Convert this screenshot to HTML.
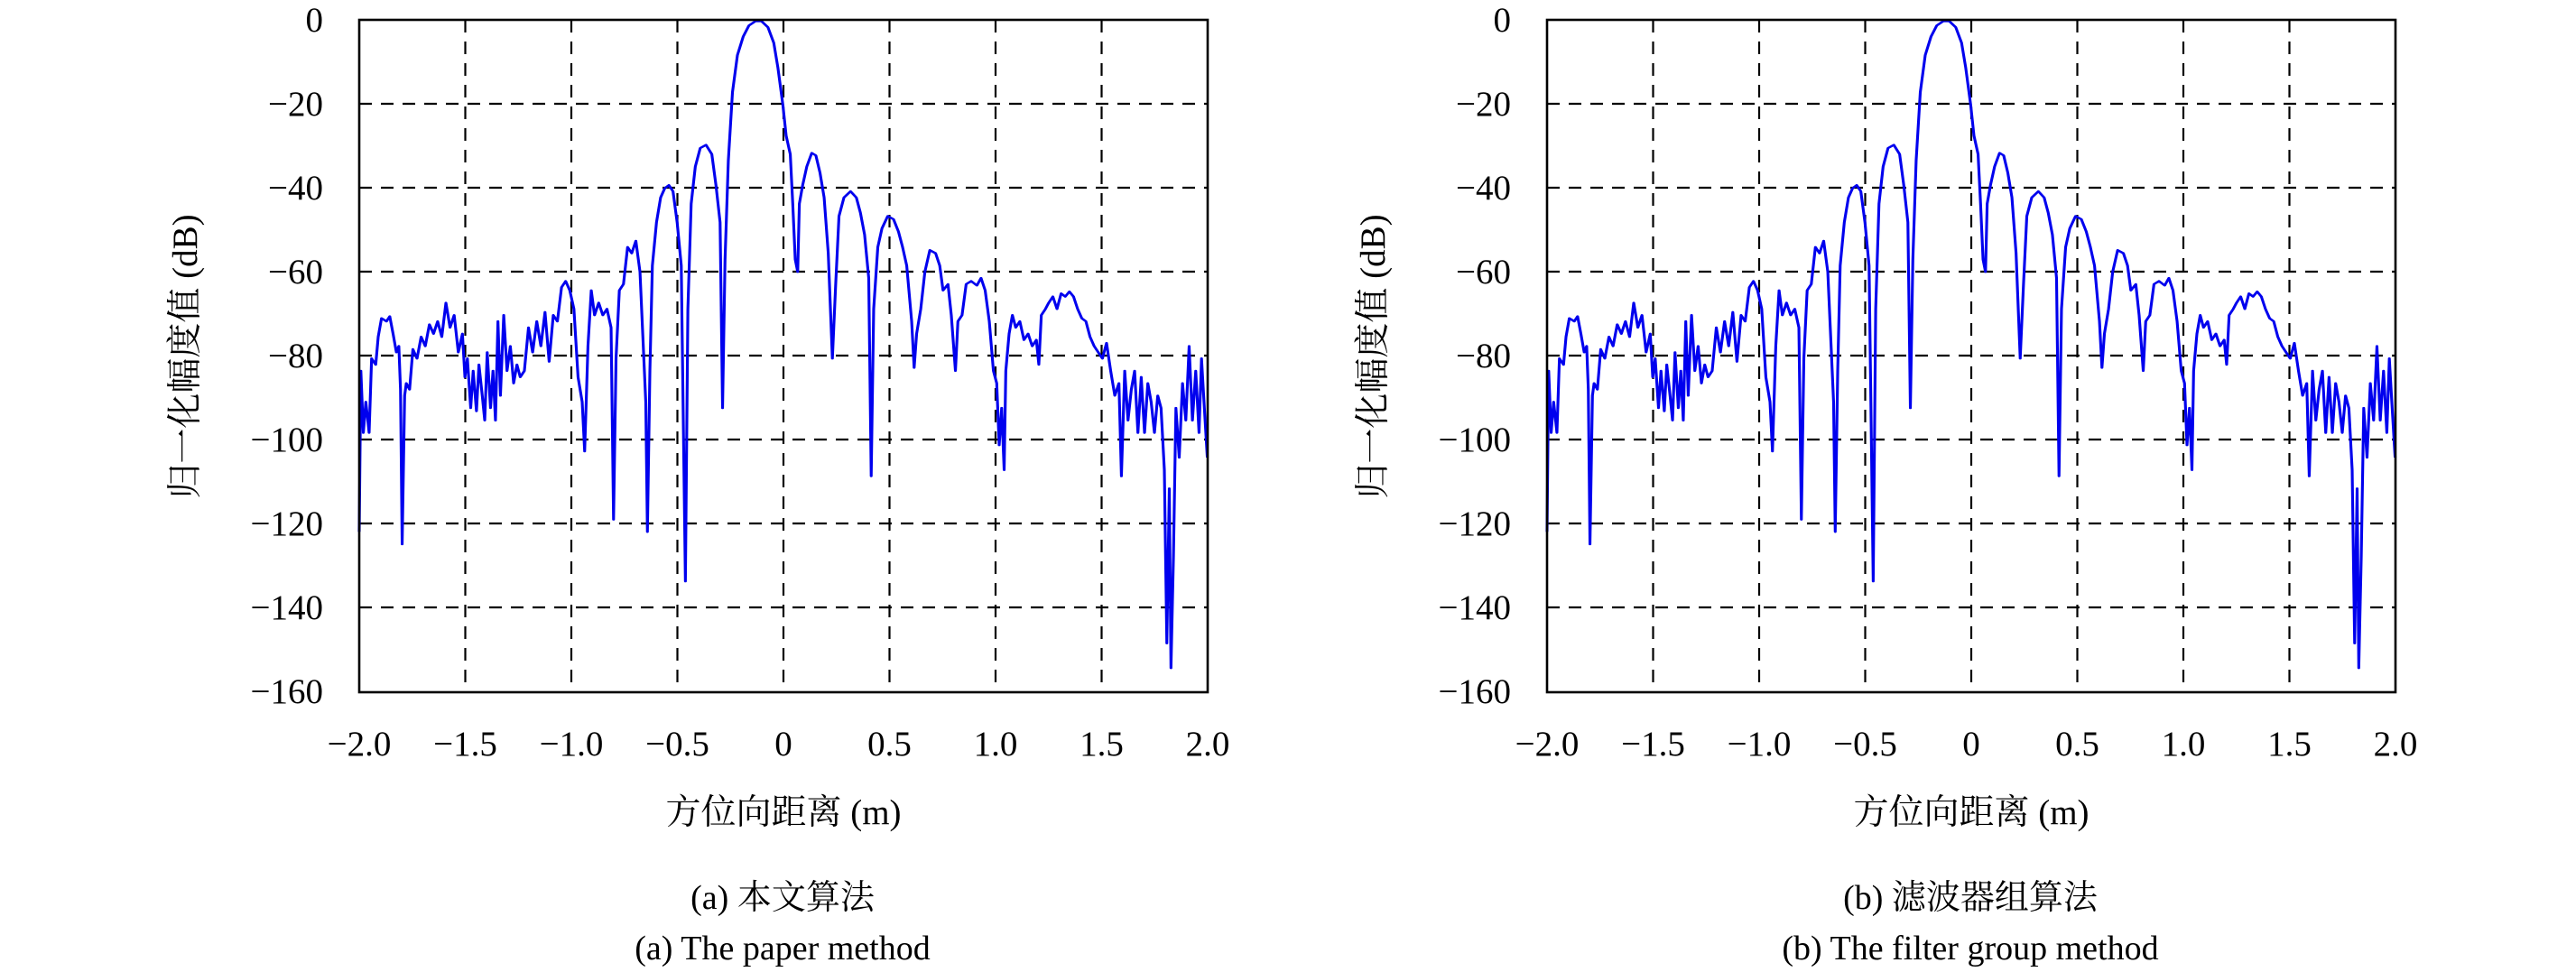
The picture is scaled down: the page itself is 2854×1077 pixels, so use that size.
<!DOCTYPE html>
<html><head><meta charset="utf-8"><style>
html,body{margin:0;padding:0;background:#fff;}
svg{display:block;}
text{font-family:"Liberation Serif","Noto Serif CJK SC",serif;fill:#000;}
</style></head><body>
<svg width="2854" height="1077" viewBox="0 0 2854 1077" xmlns="http://www.w3.org/2000/svg">
<defs>
<g id="plot">
  <g stroke="#000" stroke-width="2.2" stroke-dasharray="14,10" fill="none">
    <line x1="0" y1="93" x2="940" y2="93"/>
    <line x1="0" y1="186" x2="940" y2="186"/>
    <line x1="0" y1="279" x2="940" y2="279"/>
    <line x1="0" y1="372" x2="940" y2="372"/>
    <line x1="0" y1="465" x2="940" y2="465"/>
    <line x1="0" y1="558" x2="940" y2="558"/>
    <line x1="0" y1="651" x2="940" y2="651"/>
    <line x1="117.5" y1="0" x2="117.5" y2="745"/>
    <line x1="235" y1="0" x2="235" y2="745"/>
    <line x1="352.5" y1="0" x2="352.5" y2="745"/>
    <line x1="470" y1="0" x2="470" y2="745"/>
    <line x1="587.5" y1="0" x2="587.5" y2="745"/>
    <line x1="705" y1="0" x2="705" y2="745"/>
    <line x1="822.5" y1="0" x2="822.5" y2="745"/>
  </g>
  <g transform="translate(-398,-22.6) scale(0.9149,0.6859)">
  <polyline fill="none" stroke="#0000ee" stroke-width="3.4" stroke-linejoin="round" points="435,860 437,600 440,700 443,650 447,700 450,580 455,590 458,545 462,515 468,520 472,512 476,540 480,570 483,560 485,630 487,880 490,640 492,620 496,630 500,565 505,580 510,545 515,560 520,525 525,540 530,520 535,545 540,490 545,530 550,510 555,570 560,540 563,610 566,580 570,660 573,600 577,665 580,590 584,640 587,680 590,570 594,660 597,600 600,680 603,520 606,640 610,510 614,600 618,560 622,620 626,590 630,610 635,600 640,530 645,570 650,520 655,560 660,505 665,585 670,510 675,520 680,465 685,455 690,470 695,500 700,610 705,650 708,730 712,560 716,470 720,510 725,490 730,510 735,500 740,530 743,840 746,580 750,470 755,460 760,400 765,410 770,390 775,440 778,530 782,650 784,860 787,600 790,430 795,360 800,320 805,305 810,300 815,310 820,360 825,430 830,940 833,500 837,330 842,270 848,240 855,235 862,250 867,300 872,360 875,660 878,420 882,260 887,150 893,90 900,60 907,42 915,35 922,35 930,45 937,70 942,110 948,170 952,220 957,250 960,330 963,420 966,440 968,330 972,300 977,270 983,248 988,252 993,280 998,320 1003,410 1008,580 1012,460 1016,350 1022,320 1030,310 1037,320 1042,345 1047,380 1052,450 1055,770 1058,500 1063,400 1068,370 1075,350 1082,355 1088,375 1093,400 1098,430 1104,520 1107,595 1110,540 1115,500 1120,440 1126,405 1133,410 1138,430 1142,470 1148,460 1152,510 1157,600 1160,520 1165,510 1170,460 1176,455 1183,462 1188,450 1193,470 1198,520 1203,600 1207,620 1210,720 1213,660 1216,760 1218,600 1222,540 1226,510 1230,530 1235,520 1240,550 1245,540 1250,560 1255,550 1258,590 1261,510 1266,500 1270,490 1275,480 1280,500 1285,475 1290,480 1295,472 1300,480 1305,500 1310,515 1315,520 1320,545 1325,560 1330,570 1335,580 1340,555 1345,600 1350,640 1355,620 1358,770 1362,600 1366,680 1370,630 1374,600 1378,700 1382,610 1386,700 1390,620 1394,650 1398,700 1402,640 1406,660 1410,760 1413,1040 1416,790 1418,1080 1421,900 1424,660 1428,740 1432,620 1436,680 1440,560 1444,680 1448,600 1452,700 1455,580 1458,650 1462,740"/>
  </g>
  <rect x="0" y="0" width="940" height="745" fill="none" stroke="#000" stroke-width="2.6"/>
  <g font-size="39" text-anchor="end">
    <text x="-40" y="13">0</text>
    <text x="-40" y="106">−20</text>
    <text x="-40" y="199">−40</text>
    <text x="-40" y="292">−60</text>
    <text x="-40" y="385">−80</text>
    <text x="-40" y="478">−100</text>
    <text x="-40" y="571">−120</text>
    <text x="-40" y="664">−140</text>
    <text x="-40" y="757">−160</text>
  </g>
  <g font-size="39" text-anchor="middle">
    <text x="0" y="815">−2.0</text>
    <text x="117.5" y="815">−1.5</text>
    <text x="235" y="815">−1.0</text>
    <text x="352.5" y="815">−0.5</text>
    <text x="470" y="815">0</text>
    <text x="587.5" y="815">0.5</text>
    <text x="705" y="815">1.0</text>
    <text x="822.5" y="815">1.5</text>
    <text x="940" y="815">2.0</text>
    <text x="470" y="891">方位向距离 (m)</text>
  </g>
  <text font-size="39" text-anchor="middle" transform="translate(-180,373) rotate(-90)">归一化幅度值 (dB)</text>
</g>
</defs>
<use href="#plot" transform="translate(398,22)"/>
<use href="#plot" transform="translate(1714,22)"/>
<g font-size="38" text-anchor="middle">
  <text x="867" y="1007">(a) 本文算法</text>
  <text x="867" y="1063">(a) The paper method</text>
  <text x="2183" y="1007">(b) 滤波器组算法</text>
  <text x="2183" y="1063">(b) The filter group method</text>
</g>
</svg>
</body></html>
